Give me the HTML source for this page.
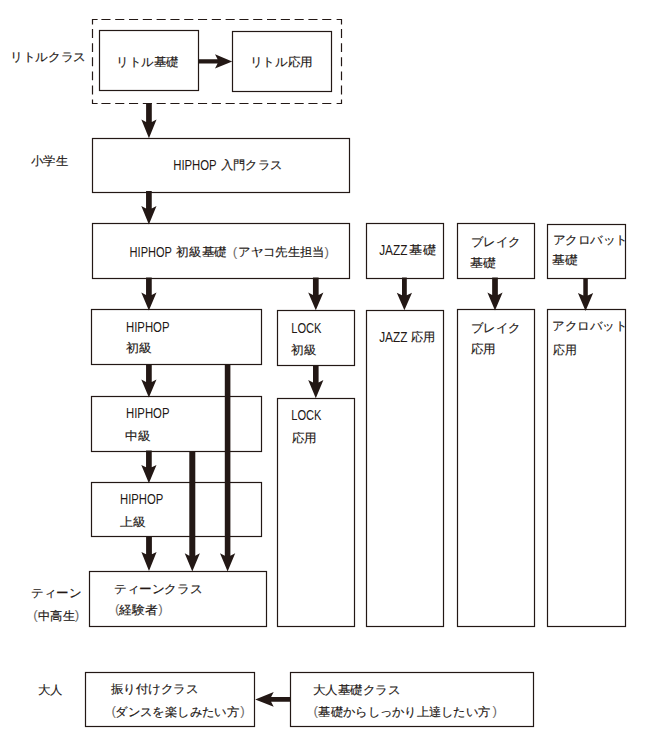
<!DOCTYPE html>
<html><head><meta charset="utf-8"><style>
html,body{margin:0;padding:0;background:#fff;width:652px;height:751px;overflow:hidden}
svg{position:absolute;left:0;top:0}
text{font-family:"Liberation Sans",sans-serif;fill:#231815} text.j{stroke:#231815;stroke-width:0.15px} text.p{opacity:.65}
</style></head><body>
<svg width="652" height="751" viewBox="0 0 652 751">
<rect x="99.5" y="30.5" width="99.00" height="60.00" fill="none" stroke="#231815" stroke-width="1.2"/>
<rect x="232.5" y="31.5" width="99.00" height="60.00" fill="none" stroke="#231815" stroke-width="1.2"/>
<rect x="92.5" y="138.5" width="257.00" height="54.00" fill="none" stroke="#231815" stroke-width="1.2"/>
<rect x="92.5" y="223.5" width="257.00" height="55.00" fill="none" stroke="#231815" stroke-width="1.2"/>
<rect x="366.5" y="223.5" width="77.00" height="55.00" fill="none" stroke="#231815" stroke-width="1.2"/>
<rect x="457.5" y="223.5" width="77.00" height="55.00" fill="none" stroke="#231815" stroke-width="1.2"/>
<rect x="547.5" y="224.5" width="78.00" height="54.00" fill="none" stroke="#231815" stroke-width="1.2"/>
<rect x="91.5" y="309.5" width="170.00" height="55.00" fill="none" stroke="#231815" stroke-width="1.2"/>
<rect x="277.5" y="310.5" width="77.00" height="55.00" fill="none" stroke="#231815" stroke-width="1.2"/>
<rect x="366.5" y="310.5" width="77.00" height="316.00" fill="none" stroke="#231815" stroke-width="1.2"/>
<rect x="457.5" y="309.5" width="77.00" height="317.00" fill="none" stroke="#231815" stroke-width="1.2"/>
<rect x="547.5" y="309.5" width="78.00" height="317.00" fill="none" stroke="#231815" stroke-width="1.2"/>
<rect x="277.5" y="398.5" width="77.00" height="228.00" fill="none" stroke="#231815" stroke-width="1.2"/>
<rect x="91.5" y="396.5" width="170.00" height="55.00" fill="none" stroke="#231815" stroke-width="1.2"/>
<rect x="91.5" y="482.5" width="170.00" height="54.00" fill="none" stroke="#231815" stroke-width="1.2"/>
<rect x="89.5" y="571.5" width="177.00" height="55.00" fill="none" stroke="#231815" stroke-width="1.2"/>
<rect x="85.5" y="672.5" width="169.00" height="54.00" fill="none" stroke="#231815" stroke-width="1.2"/>
<rect x="290.5" y="672.5" width="243.00" height="54.00" fill="none" stroke="#231815" stroke-width="1.2"/>
<path d="M102.00,19.5h7.9 M115.80,19.5h7.9 M129.60,19.5h7.9 M143.40,19.5h7.9 M157.20,19.5h7.9 M171.00,19.5h7.9 M184.80,19.5h7.9 M198.60,19.5h7.9 M212.40,19.5h7.9 M226.20,19.5h7.9 M240.00,19.5h7.9 M253.80,19.5h7.9 M267.60,19.5h7.9 M281.40,19.5h7.9 M295.20,19.5h7.9 M309.00,19.5h7.9 M322.80,19.5h7.9 M102.00,103.5h7.9 M115.80,103.5h7.9 M129.60,103.5h7.9 M143.40,103.5h7.9 M157.20,103.5h7.9 M171.00,103.5h7.9 M184.80,103.5h7.9 M198.60,103.5h7.9 M212.40,103.5h7.9 M226.20,103.5h7.9 M240.00,103.5h7.9 M253.80,103.5h7.9 M267.60,103.5h7.9 M281.40,103.5h7.9 M295.20,103.5h7.9 M309.00,103.5h7.9 M322.80,103.5h7.9 M92.5,29.70v7.7 M92.5,43.80v7.7 M92.5,57.90v7.7 M92.5,72.00v7.7 M92.5,86.10v7.7 M341.5,29.70v7.7 M341.5,43.80v7.7 M341.5,57.90v7.7 M341.5,72.00v7.7 M341.5,86.10v7.7 M92.5,23.8V19.5H97 M337.2,19.5H341.5V23.8 M92.5,100.1V103.5H97 M337.2,103.5H341.5V100.1" fill="none" stroke="#231815" stroke-width="1.2" stroke-linecap="square" stroke-linejoin="miter"/>
<path d="M146.10,103 L151.80,103 L151.80,122.00 L156.55,119.6 L148.95,138.2 L141.35,119.6 L146.10,122.00 Z" fill="#231815"/>
<path d="M146.05,191 L151.75,191 L151.75,208.50 L156.50,206.1 L148.90,224.5 L141.30,206.1 L146.05,208.50 Z" fill="#231815"/>
<path d="M146.05,277.5 L151.75,277.5 L151.75,294.90 L156.50,292.5 L148.90,310.5 L141.30,292.5 L146.05,294.90 Z" fill="#231815"/>
<path d="M312.95,277.5 L318.65,277.5 L318.65,295.00 L323.40,292.6 L315.80,310.3 L308.20,292.6 L312.95,295.00 Z" fill="#231815"/>
<path d="M402.00,277.5 L406.80,277.5 L406.80,295.20 L412.00,292.8 L404.40,310.3 L396.80,292.8 L402.00,295.20 Z" fill="#231815"/>
<path d="M492.15,277.5 L497.85,277.5 L497.85,294.90 L502.60,292.5 L495.00,310.5 L487.40,292.5 L492.15,294.90 Z" fill="#231815"/>
<path d="M583.30,278 L587.80,278 L587.80,295.50 L593.15,293.1 L585.55,311 L577.95,293.1 L583.30,295.50 Z" fill="#231815"/>
<path d="M146.05,364.5 L151.75,364.5 L151.75,381.90 L156.50,379.5 L148.90,397.4 L141.30,379.5 L146.05,381.90 Z" fill="#231815"/>
<path d="M224.80,364.5 L230.40,364.5 L230.40,555.70 L235.20,553.3 L227.60,571.6 L220.00,553.3 L224.80,555.70 Z" fill="#231815"/>
<path d="M313.00,365.5 L318.60,365.5 L318.60,382.50 L323.40,380.1 L315.80,398.3 L308.20,380.1 L313.00,382.50 Z" fill="#231815"/>
<path d="M146.05,450.5 L151.75,450.5 L151.75,467.30 L156.50,464.9 L148.90,483.3 L141.30,464.9 L146.05,467.30 Z" fill="#231815"/>
<path d="M189.30,451 L195.30,451 L195.30,555.70 L199.90,553.3 L192.30,571.6 L184.70,553.3 L189.30,555.70 Z" fill="#231815"/>
<path d="M146.10,536 L151.90,536 L151.90,554.30 L156.60,551.9 L149.00,571 L141.40,551.9 L146.10,554.30 Z" fill="#231815"/>
<path d="M198.5,59.199999999999996 L217.6,59.199999999999996 L215,54.199999999999996 L232.2,61.4 L215,68.6 L217.6,63.6 L198.5,63.6 Z" fill="#231815"/>
<path d="M290.5,697.1 L271.1,697.1 L273.7,692.0500000000001 L255.2,699.45 L273.7,706.85 L271.1,701.8000000000001 L290.5,701.8000000000001 Z" fill="#231815"/>
<text class="s j" x="10.15" y="61.24" font-size="12.2" textLength="76.03" lengthAdjust="spacingAndGlyphs">リトルクラス</text>
<text class="s j" x="116.38" y="65.94" font-size="12.2" textLength="62.37" lengthAdjust="spacingAndGlyphs">リトル基礎</text>
<text class="s j" x="249.76" y="65.64" font-size="12.2" textLength="63.03" lengthAdjust="spacingAndGlyphs">リトル応用</text>
<text class="s j" x="30.92" y="164.84" font-size="12.2" textLength="37.03" lengthAdjust="spacingAndGlyphs">小学生</text>
<text class="s" x="173.20" y="170.25" font-size="14" textLength="43.51" lengthAdjust="spacingAndGlyphs">HIPHOP</text>
<text class="s j" x="220.87" y="168.84" font-size="12.2" textLength="61.45" lengthAdjust="spacingAndGlyphs">入門クラス</text>
<text class="s" x="129.61" y="257.15" font-size="14" textLength="42.30" lengthAdjust="spacingAndGlyphs">HIPHOP</text>
<text class="s j" x="176.48" y="256.34" font-size="12.2" textLength="50.41" lengthAdjust="spacingAndGlyphs">初級基礎</text>
<text class="s p" x="232.80" y="255.84" font-size="13.5">(</text>
<text class="s j" x="238.28" y="256.34" font-size="12.2" textLength="86.44" lengthAdjust="spacingAndGlyphs">アヤコ先生担当</text>
<text class="s p" x="324.40" y="255.84" font-size="13.5">)</text>
<text class="s" x="379.19" y="255.15" font-size="14" textLength="28.30" lengthAdjust="spacingAndGlyphs">JAZZ</text>
<text class="s j" x="409.43" y="254.24" font-size="12.2" textLength="26.53" lengthAdjust="spacingAndGlyphs">基礎</text>
<text class="s j" x="470.86" y="246.04" font-size="12.2" textLength="49.75" lengthAdjust="spacingAndGlyphs">ブレイク</text>
<text class="s j" x="469.65" y="267.44" font-size="12.2" textLength="26.09" lengthAdjust="spacingAndGlyphs">基礎</text>
<text class="s j" x="552.65" y="243.54" font-size="12.2" textLength="75.22" lengthAdjust="spacingAndGlyphs">アクロバット</text>
<text class="s j" x="552.43" y="264.04" font-size="12.2" textLength="25.75" lengthAdjust="spacingAndGlyphs">基礎</text>
<text class="s" x="125.99" y="331.75" font-size="14" textLength="43.50" lengthAdjust="spacingAndGlyphs">HIPHOP</text>
<text class="s j" x="126.38" y="351.84" font-size="12.2" textLength="25.76" lengthAdjust="spacingAndGlyphs">初級</text>
<text class="s" x="291.21" y="333.15" font-size="14" textLength="30.30" lengthAdjust="spacingAndGlyphs">LOCK</text>
<text class="s j" x="291.28" y="354.14" font-size="12.2" textLength="25.24" lengthAdjust="spacingAndGlyphs">初級</text>
<text class="s" x="379.19" y="341.65" font-size="14" textLength="28.30" lengthAdjust="spacingAndGlyphs">JAZZ</text>
<text class="s j" x="410.68" y="340.74" font-size="12.2" textLength="24.47" lengthAdjust="spacingAndGlyphs">応用</text>
<text class="s j" x="470.86" y="331.64" font-size="12.2" textLength="49.75" lengthAdjust="spacingAndGlyphs">ブレイク</text>
<text class="s j" x="470.70" y="353.04" font-size="12.2" textLength="25.06" lengthAdjust="spacingAndGlyphs">応用</text>
<text class="s j" x="552.44" y="330.04" font-size="12.2" textLength="74.76" lengthAdjust="spacingAndGlyphs">アクロバット</text>
<text class="s j" x="552.87" y="353.59" font-size="12.2" textLength="23.81" lengthAdjust="spacingAndGlyphs">応用</text>
<text class="s" x="125.99" y="418.15" font-size="14" textLength="43.50" lengthAdjust="spacingAndGlyphs">HIPHOP</text>
<text class="s j" x="125.44" y="439.64" font-size="12.2" textLength="25.67" lengthAdjust="spacingAndGlyphs">中級</text>
<text class="s" x="291.21" y="420.15" font-size="14" textLength="30.30" lengthAdjust="spacingAndGlyphs">LOCK</text>
<text class="s j" x="291.70" y="441.54" font-size="12.2" textLength="25.06" lengthAdjust="spacingAndGlyphs">応用</text>
<text class="s" x="120.00" y="503.75" font-size="14" textLength="43.30" lengthAdjust="spacingAndGlyphs">HIPHOP</text>
<text class="s j" x="120.46" y="526.04" font-size="12.2" textLength="25.93" lengthAdjust="spacingAndGlyphs">上級</text>
<text class="s j" x="31.27" y="597.24" font-size="12.2" textLength="50.04" lengthAdjust="spacingAndGlyphs">ティーン</text>
<text class="s p" x="33.20" y="618.64" font-size="13.5">(</text>
<text class="s j" x="38.09" y="619.64" font-size="12.2" textLength="36.81" lengthAdjust="spacingAndGlyphs">中高生</text>
<text class="s p" x="74.80" y="618.64" font-size="13.5">)</text>
<text class="s j" x="113.89" y="592.84" font-size="12.2" textLength="88.44" lengthAdjust="spacingAndGlyphs">ティーンクラス</text>
<text class="s p" x="115.00" y="613.14" font-size="13.5">(</text>
<text class="s j" x="119.47" y="613.64" font-size="12.2" textLength="38.44" lengthAdjust="spacingAndGlyphs">経験者</text>
<text class="s p" x="158.20" y="613.14" font-size="13.5">)</text>
<text class="s j" x="37.67" y="694.24" font-size="12.2" textLength="24.89" lengthAdjust="spacingAndGlyphs">大人</text>
<text class="s j" x="110.90" y="693.24" font-size="12.2" textLength="87.41" lengthAdjust="spacingAndGlyphs">振り付けクラス</text>
<text class="s p" x="111.40" y="715.04" font-size="13.5">(</text>
<text class="s j" x="115.48" y="715.54" font-size="12.2" textLength="123.43" lengthAdjust="spacingAndGlyphs">ダンスを楽しみたい方</text>
<text class="s p" x="240.20" y="715.04" font-size="13.5">)</text>
<text class="s j" x="312.68" y="693.74" font-size="12.2" textLength="87.65" lengthAdjust="spacingAndGlyphs">大人基礎クラス</text>
<text class="s p" x="313.40" y="715.04" font-size="13.5">(</text>
<text class="s j" x="318.49" y="715.54" font-size="12.2" textLength="171.81" lengthAdjust="spacingAndGlyphs">基礎からしっかり上達したい方</text>
<text class="s p" x="492.60" y="715.04" font-size="13.5">)</text>
</svg>
</body></html>
